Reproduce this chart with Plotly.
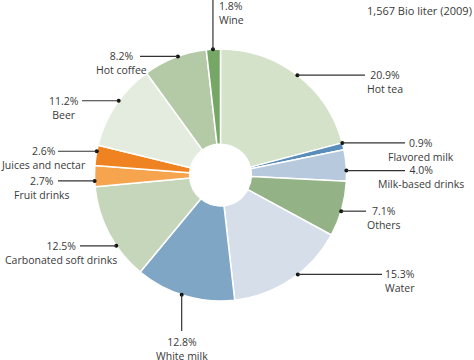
import math
import plotly.graph_objects as go

# ---- data ----
categories = ["Hot tea", "Flavored milk", "Milk-based drinks", "Others", "Water",
              "White milk", "Carbonated soft drinks", "Fruit drinks",
              "Juices and nectar", "Beer", "Hot coffee", "Wine"]
shares = [20.9, 0.9, 4.0, 7.1, 15.3, 12.8, 12.5, 2.7, 2.6, 11.2, 8.2, 1.8]
pct_labels = ["20.9%", "0.9%", "4.0%", "7.1%", "15.3%", "12.8%", "12.5%",
              "2.7%", "2.6%", "11.2%", "8.2%", "1.8%"]
title_text = "1,567 Bio liter (2009)"

# ---- styles / layout ----
colors = ["#d4e2c9", "#5a8dba", "#b7c9dc", "#93b386", "#d6deea", "#80a6c6",
          "#c6d6bb", "#f6a44e", "#f08321", "#e3ecde", "#b4c9a6", "#76a766"]
W, H = 474, 360
CX, CY, R = 220.5, 175.0, 126.0
FONT = "Open Sans"
FS = 10.5
TXT = "#3a3a3a"
LINE = "#333333"
HALF_LH = FS * 1.3 / 2  # plotly line spacing / 2

# label layout: kind, anchor fraction within slice, label position, leader end
label_layout = {
    "Hot tea":                ("right", 0.50, 385, 365),
    "Flavored milk":          ("right", 0.0, 421, 405),
    "Milk-based drinks":      ("right", 0.66, 421, 405),
    "Others":                 ("right", 0.54, 384, 366),
    "Water":                  ("right", 0.43, 400, 382),
    "White milk":             ("down", 0.53, 342, 331),
    "Carbonated soft drinks": ("left", 0.36, 61, 80),
    "Fruit drinks":           ("left", 0.28, 42, 58),
    "Juices and nectar":      ("left", 0.70, 43, 58),
    "Beer":                   ("left", 0.556, 63.5, 82),
    "Hot coffee":             ("left", 0.55, 121.5, 140),
    "Wine":                   ("up", 0.47, 6, 0),
}

fig = go.Figure()
fig.add_trace(go.Pie(
    labels=categories, values=shares, sort=False, direction="clockwise",
    rotation=0, hole=0.245, textinfo="none", hoverinfo="label+percent",
    marker=dict(colors=colors, line=dict(color="white", width=1.5)),
    domain=dict(x=[(CX - R) / W, (CX + R) / W],
                y=[1 - (CY + R) / H, 1 - (CY - R) / H]),
    showlegend=False,
))
# invisible pixel-space axes for annotations
fig.add_trace(go.Scatter(x=[0, W], y=[0, H], mode="markers",
                         marker=dict(opacity=0), hoverinfo="skip", showlegend=False))

shapes, annos = [], []
cum = 0.0
total = sum(shares)
for cat, v, pl in zip(categories, shares, pct_labels):
    kind, frac, pos, end = label_layout[cat]
    ang = (cum + v * frac) / total * 2 * math.pi
    cum += v
    dx, dy = CX + R * math.sin(ang), CY - R * math.cos(ang)
    shapes.append(dict(type="circle", xref="x", yref="y", x0=dx - 2, x1=dx + 2,
                       y0=dy - 2, y1=dy + 2, fillcolor="#111", line=dict(width=0),
                       layer="above"))
    text = f"{pl}<br>{cat}"
    if kind in ("left", "right"):
        shapes.append(dict(type="line", xref="x", yref="y", x0=dx, y0=dy, x1=end, y1=dy,
                           line=dict(color=LINE, width=1.2), layer="above"))
        annos.append(dict(x=pos, y=dy + HALF_LH, text=text, xanchor="center",
                          yanchor="middle", align="center"))
    elif kind == "down":
        shapes.append(dict(type="line", xref="x", yref="y", x0=dx, y0=dy, x1=dx, y1=end,
                           line=dict(color=LINE, width=1.2), layer="above"))
        annos.append(dict(x=dx, y=pos + HALF_LH, text=text, xanchor="center",
                          yanchor="middle", align="center"))
    else:  # up
        shapes.append(dict(type="line", xref="x", yref="y", x0=dx, y0=dy, x1=dx, y1=end,
                           line=dict(color=LINE, width=1.2), layer="above"))
        annos.append(dict(x=dx + 4, y=pos + HALF_LH, text=text, xanchor="left",
                          yanchor="middle", align="left"))

for a in annos:
    a.update(xref="x", yref="y", showarrow=False, font=dict(family=FONT, size=FS, color=TXT))

annos.append(dict(x=W, y=10, xref="x", yref="y", text=title_text, showarrow=False,
                  xanchor="right", yanchor="middle",
                  font=dict(family=FONT, size=11, color=TXT)))

fig.update_layout(
    width=W, height=H, margin=dict(l=0, r=0, t=0, b=0),
    paper_bgcolor="white", plot_bgcolor="rgba(0,0,0,0)",
    xaxis=dict(range=[0, W], visible=False, fixedrange=True),
    yaxis=dict(range=[H, 0], visible=False, fixedrange=True),
    shapes=shapes, annotations=annos,
)
fig.write_html("out.html", config={"displayModeBar": False},
               post_script="document.body.style.margin='0';document.body.style.overflow='hidden';")
